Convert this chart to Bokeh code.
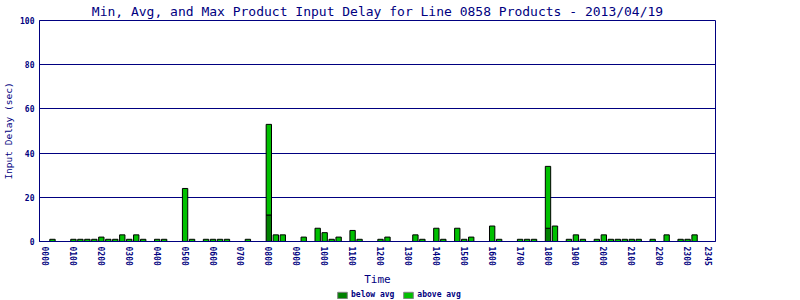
from bokeh.plotting import figure
from bokeh.layouts import column
from bokeh.models import (Range1d, FixedTicker, ColumnDataSource, Legend, LegendItem,
                          CDSView, BooleanFilter)
from bokeh.embed import file_html
from bokeh.resources import INLINE

# ---- data ----
times = ["0015", "0100", "0115", "0130", "0145", "0200", "0215", "0230", "0245",
         "0300", "0315", "0330", "0400", "0415", "0500", "0515", "0545", "0600",
         "0615", "0630", "0715", "0800", "0815", "0830", "0915", "0945", "1000",
         "1015", "1030", "1100", "1115", "1200", "1215", "1315", "1330", "1400",
         "1415", "1445", "1500", "1515", "1600", "1615", "1700", "1715", "1730",
         "1800", "1815", "1845", "1900", "1915", "1945", "2000", "2015", "2030",
         "2045", "2100", "2115", "2145", "2215", "2245", "2300", "2315"]
below_avg = [0, 0, 0, 0, 0, 0, 0, 0, 0, 0, 0, 0, 0, 0, 0, 0, 0, 0, 0, 0, 0,
             12, 0, 0, 0, 0, 0, 0, 0, 0, 0, 0, 0, 0, 0, 0, 0, 0, 0, 0, 0, 0,
             0, 0, 0, 6, 0, 0, 0, 0, 0, 0, 0, 0, 0, 0, 0, 0, 0, 0, 0, 0]
above_avg = [1, 1, 1, 1, 1, 2, 1, 1, 3, 1, 3, 1, 1, 1, 24, 1, 1, 1, 1, 1, 1,
             41, 3, 3, 2, 6, 4, 1, 2, 5, 1, 1, 2, 3, 1, 6, 1, 6, 1, 2, 7, 1,
             1, 1, 1, 28, 7, 1, 3, 1, 1, 3, 1, 1, 1, 1, 1, 1, 3, 1, 1, 3]
tick_labels = ["0000", "0100", "0200", "0300", "0400", "0500", "0600", "0700",
               "0800", "0900", "1000", "1100", "1200", "1300", "1400", "1500",
               "1600", "1700", "1800", "1900", "2000", "2100", "2200", "2300", "2345"]
y_ticks = [0, 20, 40, 60, 80, 100]
series_names = ["below avg", "above avg"]

NAVY = "#000080"
DARK = "#008000"
LIGHT = "#00C000"
FONT = "DejaVu Sans Mono"


def to_min(t):
    return int(t[:2]) * 60 + int(t[2:])


minutes = [to_min(t) for t in times]
tick_min = [to_min(t) for t in tick_labels]
tops = [b + a for b, a in zip(below_avg, above_avg)]

p = figure(width=800, height=288, x_range=Range1d(-12.9, 1440), y_range=Range1d(0, 100),
           output_backend="svg", toolbar_location=None,
           min_border_left=37, min_border_right=85, min_border_top=20, min_border_bottom=46,
           title="Min, Avg, and Max Product Input Delay for Line 0858 Products - 2013/04/19")

p.title.text_font = FONT
p.title.text_font_size = "13px"
p.title.text_font_style = "normal"
p.title.text_color = NAVY
p.title.align = "center"
p.title.standoff = 3

p.background_fill_color = "white"
p.border_fill_color = "white"
p.outline_line_color = NAVY
p.outline_line_alpha = 1
p.outline_line_width = 1

src = ColumnDataSource(dict(x=minutes, below=below_avg, top=tops))
view = CDSView(filter=BooleanFilter([b > 0 for b in below_avg]))

p.vbar(x="x", bottom=0, top="below", width=11.5, source=src, view=view,
       fill_color=DARK, line_color="black", line_width=1)
p.vbar(x="x", bottom="below", top="top", width=11.5, source=src,
       fill_color=LIGHT, line_color="black", line_width=1)

# axes
p.xaxis.ticker = FixedTicker(ticks=tick_min)
p.xaxis.major_label_overrides = {m: l for m, l in zip(tick_min, tick_labels)}
p.xaxis.major_label_orientation = "vertical"
p.yaxis.ticker = FixedTicker(ticks=y_ticks)
for ax in (p.xaxis, p.yaxis):
    ax.axis_line_color = NAVY
    ax.axis_line_width = 1
    ax.major_tick_line_color = None
    ax.minor_tick_line_color = None
    ax.major_tick_out = 0
    ax.major_label_text_font = FONT
    ax.major_label_text_font_size = "8px"
    ax.major_label_text_font_style = "bold"
    ax.major_label_text_color = NAVY
    ax.major_label_standoff = 5
    ax.axis_label_text_font = FONT
    ax.axis_label_text_font_style = "normal"
    ax.axis_label_text_color = NAVY

p.xaxis.axis_label = "Time"
p.xaxis.axis_label_text_font_size = "11px"
p.xaxis.axis_label_standoff = 4
p.yaxis.axis_label = "Input Delay (sec)"
p.yaxis.axis_label_text_font_size = "9.5px"
p.yaxis.axis_label_standoff = 3

p.xgrid.visible = False
p.ygrid.ticker = FixedTicker(ticks=y_ticks)
p.ygrid.grid_line_color = NAVY
p.ygrid.grid_line_alpha = 1
p.ygrid.grid_line_width = 1

# ---- legend strip (its own frame so nothing is clipped) ----
lg = figure(width=800, height=12, x_range=Range1d(0, 1), y_range=Range1d(0, 1),
            output_backend="svg", toolbar_location=None,
            x_axis_type=None, y_axis_type=None,
            min_border_left=0, min_border_right=0, min_border_top=0, min_border_bottom=0)
lg.outline_line_color = None
lg.background_fill_color = "white"
lg.border_fill_color = "white"
# hidden proxy renderers that only supply the legend swatches
r_b = lg.vbar(x=[0.5], top=[1], width=0.1, fill_color=DARK, line_color="#808080", line_width=1)
r_a = lg.vbar(x=[0.5], top=[1], width=0.1, fill_color=LIGHT, line_color="#808080", line_width=1)
r_b.visible = False
r_a.visible = False
legend = Legend(items=[LegendItem(label=series_names[0], renderers=[r_b], index=0),
                       LegendItem(label=series_names[1], renderers=[r_a], index=0)],
                orientation="horizontal", location=(297, 1),
                glyph_width=12, glyph_height=8, label_height=8, label_width=10,
                label_text_font=FONT, label_text_font_size="8px",
                label_text_font_style="bold", label_text_color=NAVY,
                label_standoff=3, spacing=8, padding=0, margin=0,
                inactive_fill_alpha=0,
                border_line_color=None, background_fill_alpha=0)
lg.add_layout(legend)

layout = column(p, lg, spacing=0)
open("out.html", "w").write(file_html(layout, INLINE))
